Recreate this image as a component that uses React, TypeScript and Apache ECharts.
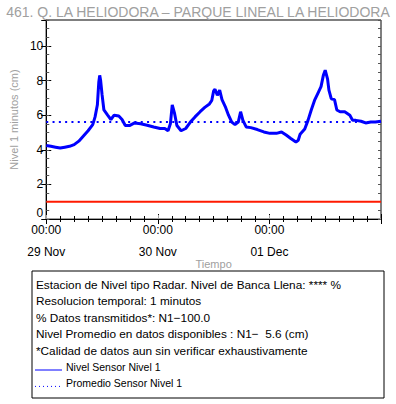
import React, { useEffect, useRef } from 'react';
import * as echarts from 'echarts';

const TITLE = '461. Q. LA HELIODORA – PARQUE LINEAL LA HELIODORA';
const dayLabels = ['29 Nov', '30 Nov', '01 Dec', '02 Dec'];
const timeLabel = '00:00';
const yTitle = 'Nivel 1 minutos (cm)';
const xTitle = 'Tiempo';

// hours since 29 Nov 00:00
const hours = [
  0, 1, 2, 3, 4, 5, 6, 7, 8, 9, 10, 10.5, 11, 11.3, 11.5, 11.7, 12, 12.4, 13.2, 13.9,
  14.6, 15.6, 16.3, 17, 17.9, 19, 20.3, 21.7, 23.1, 24.5, 25.5, 26.2, 26.7, 27.1, 27.6,
  28.1, 29, 30, 31, 32, 33.1, 34.1, 35.1, 35.6, 36, 36.3, 36.8, 37.3, 37.8, 38.5, 39.2,
  39.9, 40.6, 41.3, 41.8, 42.3, 43, 44, 45.4, 46.8, 48.1, 49.5, 50.6, 51.6, 52.6, 53.7,
  54.2, 54.6, 55.6, 56.3, 57, 57.7, 58.4, 59.1, 59.6, 60, 60.5, 60.8, 61.3, 62, 62.5,
  63.2, 64.2, 65.3, 65.9, 66.6, 67.7, 68.7, 69.8, 70.8, 72,
];
const levels = [
  4.25, 4.2, 4.15, 4.1, 4.15, 4.2, 4.3, 4.5, 4.8, 5.1, 5.45, 5.9, 6.6, 7.9, 8.3, 8.0, 7.2, 6.3, 6.0, 5.75,
  6.0, 5.95, 5.75, 5.4, 5.4, 5.55, 5.5, 5.42, 5.32, 5.23, 5.23, 5.1, 5.5, 6.6, 6.1,
  5.4, 5.1, 5.23, 5.6, 5.9, 6.2, 6.45, 6.65, 6.85, 7.4, 7.5, 7.15, 7.45, 6.9, 6.5, 6.0,
  5.6, 5.45, 5.6, 6.2, 5.7, 5.32, 5.28, 5.17, 5.03, 4.95, 4.95, 5.03, 4.85, 4.65, 4.45,
  4.55, 4.9, 5.2, 5.7, 6.3, 6.85, 7.25, 7.65, 8.3, 8.6, 8.1, 7.45, 6.95, 6.9, 6.3,
  6.2, 6.2, 6.0, 5.7, 5.7, 5.65, 5.55, 5.6, 5.6, 5.65,
];
const meanLevel = 5.6;
const alertLevel = 1.0;
const xRange = [0, 72];
const yRange = [0, 11.5];

const infoLines = [
  'Estacion de Nivel tipo Radar. Nivel de Banca Llena: **** %',
  'Resolucion temporal: 1 minutos',
  '% Datos transmitidos*: N1\u2212100.0',
  'Nivel Promedio en datos disponibles : N1\u2212  5.6 (cm)',
  '*Calidad de datos aun sin verificar exhaustivamente',
];
const legendNames = ['Nivel Sensor Nivel 1', 'Promedio Sensor Nivel 1'];

const FONT = '"Liberation Sans", Arial, Helvetica, sans-serif';

export default function App() {
  const ref = useRef<HTMLDivElement>(null);
  useEffect(() => {
    if (!ref.current) return;
    const chart = echarts.init(ref.current, undefined, { renderer: 'svg' });
    const levelData = hours.map((h, i) => [h, levels[i]]);
    const meanData = xRange.map((h) => [h, meanLevel]);
    const alertData = xRange.map((h) => [h, alertLevel]);

    const boxX = 32, boxY = 271, boxW = 352, boxH = 127;
    const lineStart = boxY + 14;
    const lineStep = 16.4;
    const graphic: any[] = [
      {
        type: 'rect',
        shape: { x: boxX, y: boxY, width: boxW, height: boxH },
        style: { fill: '#fff', stroke: '#000', lineWidth: 1 },
      },
    ];
    infoLines.forEach((t, i) => {
      graphic.push({
        type: 'text',
        x: boxX + 4,
        y: lineStart + i * lineStep,
        style: { text: t, font: `11.8px ${FONT}`, fill: '#000', textVerticalAlign: 'middle' },
      });
    });
    legendNames.forEach((t, i) => {
      const y = lineStart + (infoLines.length + i) * lineStep;
      graphic.push({
        type: 'line',
        shape: { x1: boxX + 3, y1: y + 3, x2: boxX + 30, y2: y + 3 },
        style: { stroke: '#0000ff', lineWidth: 1, lineDash: i === 0 ? null : [1, 3] },
      });
      graphic.push({
        type: 'text',
        x: boxX + 34,
        y,
        style: { text: t, font: `10.5px ${FONT}`, fill: '#000', textVerticalAlign: 'middle' },
      });
    });

    const baseX = { type: 'value', min: xRange[0], max: xRange[1], interval: 24, splitLine: { show: false } };
    const baseY = { type: 'value', min: yRange[0], max: yRange[1], splitLine: { show: false } };

    chart.setOption({
      animation: false,
      textStyle: { fontFamily: FONT },
      title: {
        text: TITLE,
        left: 'center',
        top: 0,
        textStyle: { color: '#a0a0a0', fontSize: 14, fontWeight: 'normal', fontFamily: FONT },
      },
      grid: { left: 32, right: 15, top: 20, bottom: 185, show: true, borderColor: '#000', borderWidth: 1, backgroundColor: 'transparent' },
      xAxis: [
        {
          ...baseX,
          position: 'bottom',
          axisLine: { lineStyle: { color: '#000', width: 1 } },
          axisTick: { inside: true, length: 5, lineStyle: { color: '#000' } },
          minorTick: { show: true, splitNumber: 8, length: 3, lineStyle: { color: '#000' } },
          axisLabel: { formatter: () => timeLabel, fontSize: 12, color: '#000', margin: 5, showMaxLabel: false },
        },
        {
          ...baseX,
          position: 'bottom',
          offset: 22,
          axisLine: { lineStyle: { color: '#a0a0a0', width: 2 } },
          axisTick: { inside: true, length: 4, lineStyle: { color: '#a0a0a0' } },
          axisLabel: {
            formatter: (v: number) => dayLabels[Math.round(v / 24)],
            fontSize: 12,
            color: '#000',
            margin: 5,
            showMaxLabel: false,
          },
          name: xTitle,
          nameLocation: 'middle',
          nameGap: 16,
          nameTextStyle: { color: '#a0a0a0', fontSize: 11 },
        },
        {
          ...baseX,
          position: 'top',
          axisLine: { lineStyle: { color: '#000', width: 1 } },
          axisTick: { inside: true, length: 5, lineStyle: { color: '#000' } },
          minorTick: { show: true, splitNumber: 8, length: 3, lineStyle: { color: '#000' } },
          axisLabel: { show: false },
        },
      ],
      yAxis: [
        {
          ...baseY,
          interval: 2,
          position: 'left',
          axisLine: { lineStyle: { color: '#a0a0a0', width: 2 } },
          axisTick: { inside: true, length: 5, lineStyle: { color: '#000' } },
          axisLabel: {
            fontSize: 12,
            color: '#000',
            margin: 3,
            showMaxLabel: false,
            verticalAlignMinLabel: 'bottom',
            formatter: (v: number) => (v % 2 === 0 ? String(v) : ''),
          },
          name: yTitle,
          nameLocation: 'middle',
          nameGap: 20,
          nameTextStyle: { color: '#a0a0a0', fontSize: 11 },
        },
        {
          ...baseY,
          interval: 2,
          position: 'right',
          axisLine: { lineStyle: { color: '#000', width: 1 } },
          axisTick: { inside: true, length: 5, lineStyle: { color: '#000' } },
          axisLabel: { show: false },
        },
        {
          ...baseY,
          interval: 0.5,
          position: 'left',
          axisLine: { show: false },
          axisTick: { inside: true, length: 3, lineStyle: { color: '#555' } },
          axisLabel: { show: false },
        },
        {
          ...baseY,
          interval: 0.5,
          position: 'right',
          axisLine: { show: false },
          axisTick: { inside: true, length: 3, lineStyle: { color: '#555' } },
          axisLabel: { show: false },
        },
      ],
      series: [
        {
          type: 'line',
          name: 'Umbral',
          data: alertData,
          xAxisIndex: 0,
          yAxisIndex: 0,
          showSymbol: false,
          lineStyle: { color: '#ff1a00', width: 2 },
          silent: true,
        },
        {
          type: 'line',
          name: legendNames[0],
          data: levelData,
          xAxisIndex: 0,
          yAxisIndex: 0,
          showSymbol: false,
          lineStyle: { color: '#0000ff', width: 3 },
          silent: true,
        },
        {
          type: 'line',
          name: legendNames[1],
          data: meanData,
          xAxisIndex: 0,
          yAxisIndex: 0,
          showSymbol: false,
          lineStyle: { color: '#0000ff', width: 2, type: [2, 4.3] },
          silent: true,
        },
      ],
      graphic,
    });
    return () => chart.dispose();
  }, []);
  return <div ref={ref} style={{ width: 396, height: 404, position: 'absolute', left: 0, top: 0 }} />;
}
